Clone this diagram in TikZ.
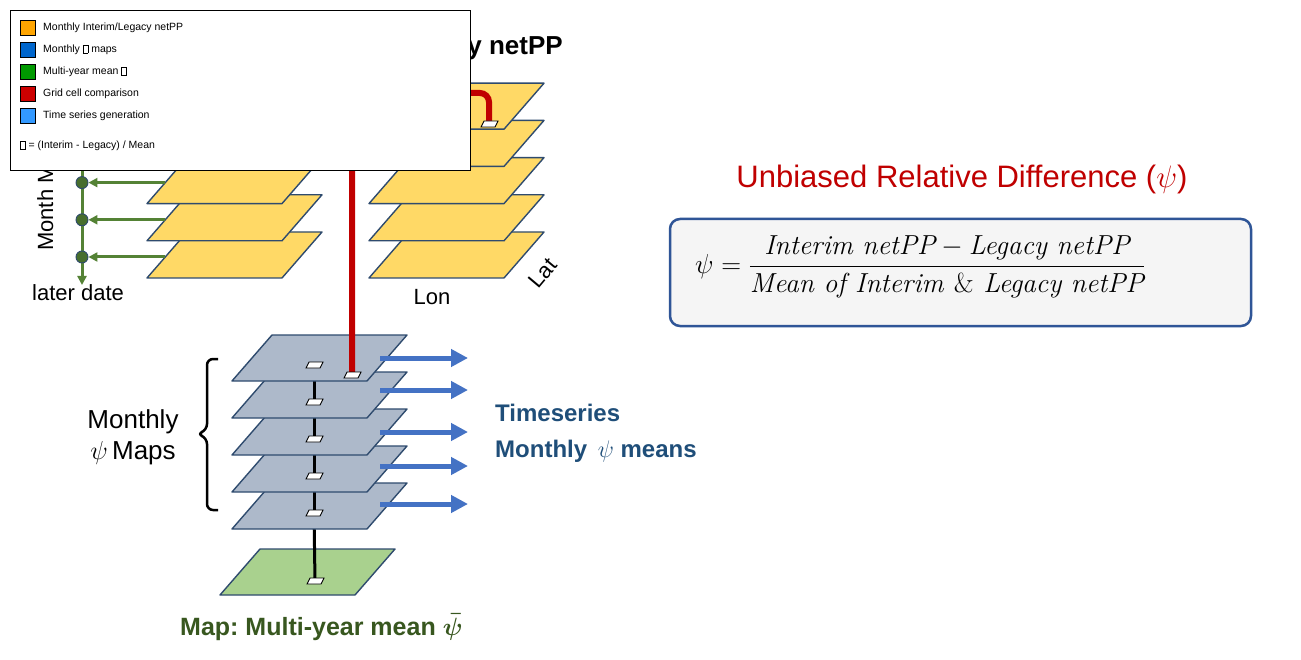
\documentclass[tikz,border=0pt]{standalone}
\usepackage{fix-cm}
\usepackage{amsmath}
\usepackage{fontspec}
\setsansfont{Liberation Sans}
\usetikzlibrary{arrows.meta}

\definecolor{sheetyellow}{HTML}{FFD966}
\definecolor{sheetgrey}{HTML}{ADB9CA}
\definecolor{sheetgreen}{HTML}{A9D18E}
\definecolor{sheetedge}{HTML}{2F4B6E}
\definecolor{linkred}{HTML}{C00000}
\definecolor{tsblue}{HTML}{4472C4}
\definecolor{tstext}{HTML}{1F4E79}
\definecolor{mapgreen}{HTML}{38571F}
\definecolor{timegreen}{HTML}{548235}
\definecolor{eqedge}{HTML}{2F5597}
\definecolor{eqfill}{HTML}{F5F5F5}
\definecolor{legorange}{HTML}{FFA500}
\definecolor{legblue}{HTML}{0066CC}
\definecolor{leggreen}{HTML}{009900}
\definecolor{legred}{HTML}{CC0000}
\definecolor{leglight}{HTML}{3399FF}

\newcommand{\tofu}{{\setlength{\fboxsep}{0pt}\setlength{\fboxrule}{0.5pt}\fbox{\rule{0pt}{7pt}\rule{4.5pt}{0pt}}}}

\begin{document}
\begin{tikzpicture}[
    x=1pt, y=-1pt,
    yellowsheet/.style={fill=sheetyellow, draw=sheetedge, line width=1.4pt, line join=round},
    greysheet/.style={fill=sheetgrey, draw=sheetedge, line width=1.4pt, line join=round},
    greensheet/.style={fill=sheetgreen, draw=sheetedge, line width=1.4pt, line join=round},
    pics/sheet/.style={code={\filldraw[#1] (0,0) -- (135,0) -- (175,-46) -- (40,-46) -- cycle;}},
    pics/cell/.style={code={\filldraw[fill=white, draw=black, line width=0.9pt] (-8,3) -- (6,3) -- (9,-3) -- (-5,-3) -- cycle;}},
    tdot/.style={circle, fill=timegreen!85!black, draw=sheetedge, line width=0.9pt, minimum size=12pt, inner sep=0pt},
    tarrow/.style={-{Triangle[length=9pt, width=9pt]}, timegreen, line width=3pt},
    tsarrow/.style={-{Triangle[length=17pt, width=17pt]}, tsblue, line width=5pt},
    redlink/.style={linkred, line width=6pt, rounded corners=9pt},
    cellline/.style={black, line width=3pt},
    lbl/.style={font=\sffamily\fontsize{22}{26}\selectfont, inner sep=0pt},
    boldlbl/.style={font=\sffamily\bfseries\fontsize{24}{36}\selectfont, inner sep=0pt},
    legsq/.style={draw=black, line width=0.8pt, minimum size=15pt, inner sep=0pt},
    legtxt/.style={font=\sffamily\fontsize{10.5}{12}\selectfont, inner sep=0pt, anchor=west}
]
\path[use as bounding box, fill=white] (0,0) rectangle (1301,660);

% time axis of the monthly maps
\coordinate (tstart) at (82,100);
\coordinate (tend) at (82,285);
\draw[tarrow] (tstart) -- (tend);
\foreach \k in {0,...,4} {
  \pic at (147,278-37.2*\k) {sheet=yellowsheet};
  \coordinate (mleft\k) at (165,257-37.2*\k);
  \node[tdot] (dot\k) at (82,257-37.2*\k) {};
  \draw[tarrow] (mleft\k) -- (dot\k);
}

% interim / legacy stack
\foreach \k in {0,...,4}
  \pic at (369,278-37.2*\k) {sheet=yellowsheet};

% psi maps and multi-year mean
\foreach \k in {0,...,4}
  \coordinate (c\k) at (314,365+37*\k);
\coordinate (c5) at (315,581);
\pic at (220,595) {sheet=greensheet};
\foreach \k in {4,3,2,1,0} {
  \pgfmathtruncatemacro{\j}{\k+1}
  \draw[cellline] (c\j) -- (c\k);
  \pic at (c\j) {cell};
  \pic at (232,381+37*\k) {sheet=greysheet};
}
\pic at (c0) {cell};

% grid cell comparison
\coordinate (rcell) at (352,375);
\coordinate (ycell) at (489,124);
\draw[redlink] (rcell) -- ++(0,-282) -| (ycell);
\pic at (rcell) {cell};
\pic at (ycell) {cell};

% time series
\foreach \y [count=\i] in {358,390,432,466,504} {
  \coordinate (ts\i) at (380,\y);
  \coordinate (te\i) at (468,\y);
  \draw[tsarrow] (ts\i) -- (te\i);
}

\draw[black, line width=2.5pt, rounded corners=6pt] (218,359) -- (207,359) -- (207,430) -- (197,434) -- (207,438) -- (207,510) -- (218,510);

\node[lbl, rotate=90, anchor=base west] (month) at (53,251) {Month Maps};
\node[lbl, anchor=base west] (later) at (32,301) {later date};
\node[lbl, anchor=base] (lon) at (432,305) {Lon};
\node[lbl, rotate=50] (lat) at (543,273) {Lat};
\node[boldlbl, font=\sffamily\bfseries\fontsize{26}{30}\selectfont, anchor=base east] (ntitle) at (563,55) {Monthly Interim/Legacy netPP};
\node[font=\sffamily\fontsize{26}{31}\selectfont, inner sep=0pt, align=center, anchor=base] (mmaps) at (133,459) {Monthly\\$\psi$\,Maps};
\node[boldlbl, text=tstext, align=left, anchor=base west] (tseries) at (495,457) {Timeseries\\Monthly \,$\psi$ means};
\node[boldlbl, font=\sffamily\bfseries\fontsize{25}{30}\selectfont, text=mapgreen, anchor=base west] (mymean) at (180,635) {Map:\ Multi-year mean $\boldsymbol{\bar{\psi}}$};

% formula
\node[font=\sffamily\fontsize{31}{36}\selectfont, text=linkred, anchor=base, inner sep=0pt] (urd) at (962,188) {Unbiased Relative Difference ($\psi$)};
\node[draw=eqedge, fill=eqfill, line width=2.5pt, rounded corners=10pt, minimum width=581pt, minimum height=107pt, inner sep=0pt] (eqbox) at (960.5,272.5) {};
\node[font=\rmfamily\fontsize{27.5}{32}\selectfont, anchor=west, inner sep=0pt] (eq) at (695,267)
  {$\psi = \dfrac{\textit{Interim netPP} - \textit{Legacy netPP}}{\textit{Mean of Interim \textup{\&} Legacy netPP}}$};

% legend
\node[draw=black, fill=white, line width=0.8pt, minimum width=460pt, minimum height=160pt, inner sep=0pt] (legend) at (240,90) {};
\foreach \col/\txt [count=\i] in {legorange/{Monthly Interim/Legacy netPP}, legblue/{Monthly \tofu{} maps},
    leggreen/{Multi-year mean \tofu}, legred/{Grid cell comparison}, leglight/{Time series generation}} {
  \node[legsq, fill=\col] (sq\i) at (27.5,6+22*\i) {};
  \node[legtxt] (lt\i) at (43,6+22*\i) {\txt};
}
\node[legtxt] (lnote) at (20,146) {\tofu{} = (Interim - Legacy) / Mean};

\end{tikzpicture}
\end{document}
